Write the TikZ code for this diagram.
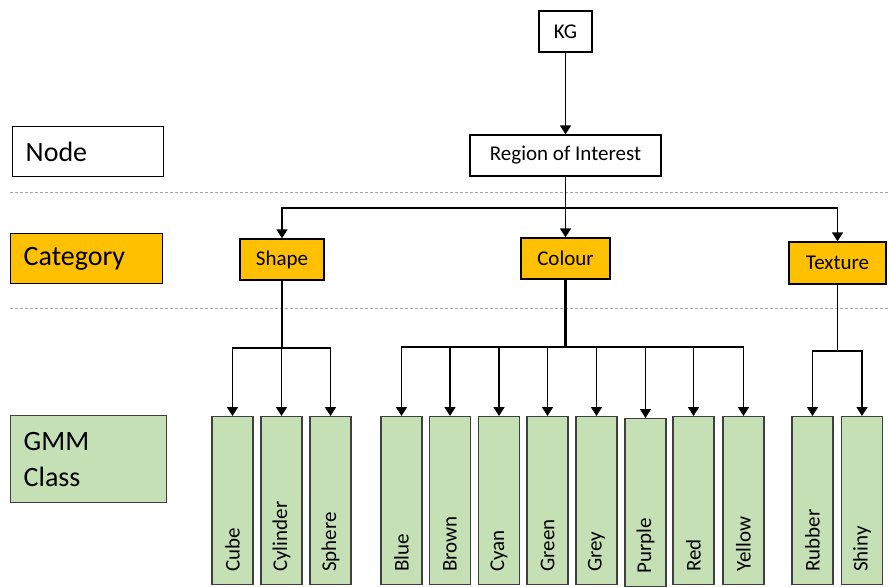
\documentclass[tikz,border=0pt]{standalone}
\usepackage{fontspec}
\setmainfont{Carlito}
\usetikzlibrary{arrows.meta}
\definecolor{catfill}{HTML}{FFC000}
\definecolor{gmmfill}{HTML}{C5E0B4}
\definecolor{gmmline}{HTML}{3F3F3F}
\definecolor{sepline}{HTML}{A6A6A6}
\begin{document}
\begin{tikzpicture}[x=1pt,y=-1pt,
  box/.style={draw=black, line width=1.4pt, fill=white, inner sep=0pt,
    font=\fontsize{21}{25}\selectfont},
  catbox/.style={box, fill=catfill},
  classbox/.style={draw=gmmline, line width=1.4pt, fill=gmmfill, rotate=90,
    minimum width=168pt, minimum height=41pt, text width=142pt,
    inner xsep=13pt, inner ysep=0pt, align=left, anchor=east,
    font=\fontsize{21}{25}\selectfont},
  legend/.style={draw=black, line width=1.4pt, inner xsep=13pt, inner ysep=0pt,
    align=left, anchor=north west, font=\fontsize{28}{36}\selectfont},
  conn/.style={line width=1.6pt, draw=black},
  arr/.style={conn, -{Triangle[width=11pt,length=9pt]}},
  sep/.style={draw=sepline, line width=1pt, dash pattern=on 3pt off 2pt}]

\useasboundingbox (0,0) rectangle (890,586);

% level separators
\draw[sep] (10,192) -- (890,192);
\draw[sep] (10,308) -- (890,308);

% legend on the left
\node[legend, minimum width=151pt, minimum height=50pt, text width=125pt] (lgnode) at (12,126) {Node};
\node[legend, fill=catfill, minimum width=152pt, minimum height=50pt, text width=126pt] (lgcat) at (10,233) {Category};
\node[legend, fill=gmmfill, draw=gmmline, minimum width=156pt, minimum height=87pt, text width=130pt] (lggmm) at (10,415) {GMM\\Class};

% node level
\node[box, minimum width=53pt, minimum height=41pt] (kg) at (565.5,31.5) {KG};
\node[box, minimum width=191pt, minimum height=41pt] (roi) at (565.5,155.5) {Region of Interest};

% category level
\node[catbox, minimum width=84pt, minimum height=41pt] (shape) at (282,259.5) {Shape};
\node[catbox, minimum width=89pt, minimum height=41pt] (colour) at (565.5,258.5) {Colour};
\node[catbox, minimum width=97pt, minimum height=42pt] (texture) at (837.5,263) {Texture};

% GMM classes
\node[classbox] (cube)     at (232.5,416) {Cube};
\node[classbox] (cylinder) at (281.5,416) {Cylinder};
\node[classbox] (sphere)   at (330.5,416) {Sphere};
\node[classbox] (blue)     at (401.5,416) {Blue};
\node[classbox] (brown)    at (450,416)   {Brown};
\node[classbox] (cyan)     at (499,416)   {Cyan};
\node[classbox] (green)    at (547.5,416) {Green};
\node[classbox] (grey)     at (596.5,416) {Grey};
\node[classbox] (purple)   at (645.5,418) {Purple};
\node[classbox] (red)      at (693.5,416) {Red};
\node[classbox] (yellow)   at (743.5,416) {Yellow};
\node[classbox] (rubber)   at (812.5,416) {Rubber};
\node[classbox] (shiny)    at (862,416)   {Shiny};

% junction points of the tree
\coordinate (jroi) at (565.5,208);
\coordinate (jshape) at (282,348);
\coordinate (jcolour) at (565.5,347);
\coordinate (jtexture) at (837.5,351);

% connectors
\draw[arr] (kg) -- (roi);
\draw[conn] (roi.south) -- (jroi);
\draw[arr] (jroi) -| (shape.north);
\draw[arr] (jroi) -- (colour.north);
\draw[arr] (jroi) -| (texture.north);

\draw[conn] (shape.south) -- (jshape);
\foreach \c in {cube,cylinder,sphere}
  \draw[arr] (jshape) -| (\c.east);

\draw[conn, line width=2.4pt] (colour.south) -- (jcolour);
\foreach \c in {blue,brown,cyan,green,grey,purple,red,yellow}
  \draw[arr] (jcolour) -| (\c.east);

\draw[conn] (texture.south) -- (jtexture);
\foreach \c in {rubber,shiny}
  \draw[arr] (jtexture) -| (\c.east);
\end{tikzpicture}
\end{document}
